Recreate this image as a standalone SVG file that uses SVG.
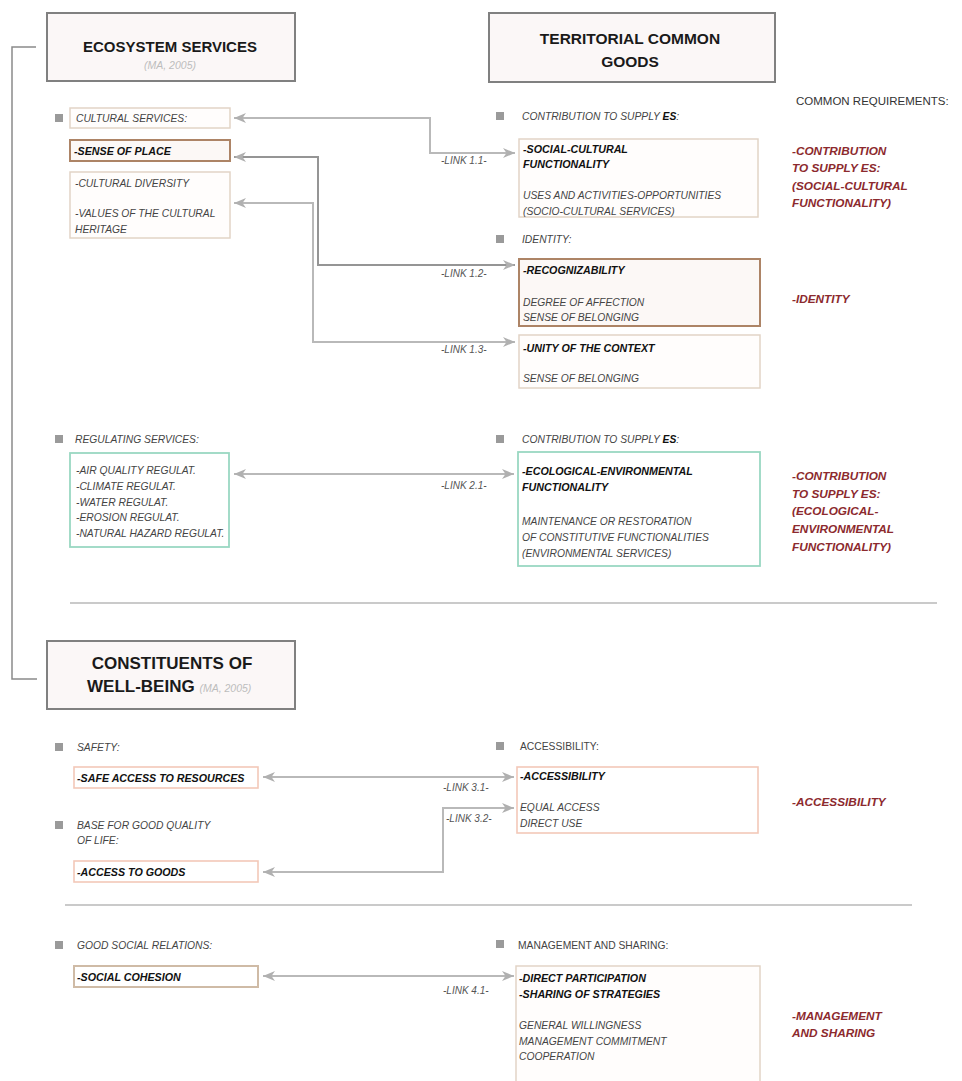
<svg xmlns="http://www.w3.org/2000/svg" width="962" height="1081" viewBox="0 0 962 1081">
<style>
text{font-family:"Liberation Sans",Arial,sans-serif}
.hdr{fill:#fbf7f7;stroke:#808080;stroke-width:2}
.ht{font-weight:bold;fill:#1a1a1a}
.ma{font-style:italic;fill:#bdbdbd;font-size:10.5px}
.bul{fill:#9a9a9a}
.lab{font-style:italic;font-size:10.3px;fill:#555}
.up{font-size:10.3px;fill:#444}
.it{font-style:italic;font-size:10.3px;fill:#444}
.bd{font-style:italic;font-weight:bold;font-size:10.7px;fill:#111}
.red{font-style:italic;font-weight:bold;font-size:11.8px;fill:#8c2a2e}
.lnk{font-style:italic;font-size:10px;fill:#555}
.box{fill:#fffdfc;stroke-width:1.5}
.tan{stroke:#e2d4c6}
.brn{stroke:#ad8466;stroke-width:2;fill:#fcf8f6}
.grn{stroke:#9ad8c2;stroke-width:1.8;fill:#fff}
.sal{stroke:#f3c8b8;stroke-width:1.6;fill:#fff}
.coh{stroke:#cfbba6;stroke-width:2;fill:#fff}
.con{fill:none;stroke:#b9b9b9;stroke-width:2}
.dk{stroke:#959595}
.sep{stroke:#b8b8b8;stroke-width:1.5}
</style>
<defs>
<marker id="ah" viewBox="0 0 12 10" refX="12" refY="5" markerWidth="12" markerHeight="10" markerUnits="userSpaceOnUse" orient="auto-start-reverse">
<path d="M0,0 L12,5 L0,10 L3.5,5 Z" fill="#b0b0b0"/>
</marker>
</defs>
<rect width="962" height="1081" fill="#fff"/>

<!-- bracket -->
<path d="M36,47 H12 V679 H37" fill="none" stroke="#8a8a8a" stroke-width="1.5"/>

<!-- separators -->
<line class="sep" x1="70" y1="603" x2="937" y2="603"/>
<line class="sep" x1="65" y1="905" x2="912" y2="905"/>

<!-- headers -->
<g id="h-es">
<rect class="hdr" x="47" y="13" width="248" height="68"/>
<text class="ht" x="170" y="52" font-size="15" text-anchor="middle">ECOSYSTEM SERVICES</text>
<text class="ma" x="170" y="69" text-anchor="middle">(MA, 2005)</text>
</g>
<g id="h-tcg">
<rect class="hdr" x="489" y="13" width="286" height="69"/>
<text class="ht" x="630" y="44" font-size="15.5" text-anchor="middle">TERRITORIAL COMMON</text>
<text class="ht" x="630" y="67" font-size="15.5" text-anchor="middle">GOODS</text>
</g>
<g id="h-cwb">
<rect class="hdr" x="47" y="641" width="248" height="68"/>
<text class="ht" x="172" y="669" font-size="17" text-anchor="middle">CONSTITUENTS OF</text>
<text class="ht" x="87" y="692" font-size="17">WELL-BEING <tspan class="ma" font-weight="normal" font-size="11">(MA, 2005)</tspan></text>
</g>

<text x="796" y="105" font-size="11.5" fill="#333">COMMON REQUIREMENTS:</text>

<!-- left: cultural -->
<g id="cultural-services">
<rect class="bul" x="55" y="114" width="8" height="8"/>
<rect class="box tan" x="70" y="108" width="160" height="20"/>
<text class="it" x="76" y="122">CULTURAL SERVICES:</text>
</g>
<g id="sense-of-place">
<rect class="box brn" x="70" y="140" width="160" height="21"/>
<text class="bd" x="74" y="155">-SENSE OF PLACE</text>
</g>
<g id="cultural-diversity">
<rect class="box tan" x="70" y="172" width="160" height="66"/>
<text class="it" x="75" y="187">-CULTURAL DIVERSITY</text>
<text class="it" x="75" y="217">-VALUES OF THE CULTURAL</text>
<text class="it" x="75" y="233">HERITAGE</text>
</g>

<!-- left: regulating -->
<g id="regulating-services">
<rect class="bul" x="55" y="435" width="8" height="8"/>
<text class="it" x="75" y="443">REGULATING SERVICES:</text>
<rect class="box grn" x="70" y="453" width="159" height="94"/>
<text class="it" x="76" y="474">-AIR QUALITY REGULAT.</text>
<text class="it" x="76" y="490">-CLIMATE REGULAT.</text>
<text class="it" x="76" y="505.5">-WATER REGULAT.</text>
<text class="it" x="76" y="521">-EROSION REGULAT.</text>
<text class="it" x="76" y="537">-NATURAL HAZARD REGULAT.</text>
</g>

<!-- right: social-cultural -->
<g id="social-cultural">
<rect class="bul" x="496" y="112" width="8" height="8"/>
<text class="it" x="522" y="120">CONTRIBUTION TO SUPPLY <tspan font-weight="bold" fill="#111">ES</tspan>:</text>
<rect class="box tan" x="519" y="139" width="239" height="78"/>
<text class="bd" x="523" y="153">-SOCIAL-CULTURAL</text>
<text class="bd" x="523" y="168">FUNCTIONALITY</text>
<text class="it" x="523" y="199">USES AND ACTIVITIES-OPPORTUNITIES</text>
<text class="it" x="523" y="215">(SOCIO-CULTURAL SERVICES)</text>
</g>
<g id="recognizability">
<rect class="bul" x="496" y="235" width="8" height="8"/>
<text class="it" x="522" y="243">IDENTITY:</text>
<rect class="box brn" x="519" y="259" width="241" height="67"/>
<text class="bd" x="523" y="274">-RECOGNIZABILITY</text>
<text class="it" x="523" y="306">DEGREE OF AFFECTION</text>
<text class="it" x="523" y="321">SENSE OF BELONGING</text>
</g>
<g id="unity">
<rect class="box tan" x="519" y="335" width="241" height="53"/>
<text class="bd" x="523" y="352">-UNITY OF THE CONTEXT</text>
<text class="it" x="523" y="382">SENSE OF BELONGING</text>
</g>
<g id="ecological">
<rect class="bul" x="496" y="435" width="8" height="8"/>
<text class="it" x="522" y="443">CONTRIBUTION TO SUPPLY <tspan font-weight="bold" fill="#111">ES</tspan>:</text>
<rect class="box grn" x="518" y="452" width="242" height="114"/>
<text class="bd" x="522" y="475">-ECOLOGICAL-ENVIRONMENTAL</text>
<text class="bd" x="522" y="491">FUNCTIONALITY</text>
<text class="it" x="522" y="525">MAINTENANCE OR RESTORATION</text>
<text class="it" x="522" y="541">OF CONSTITUTIVE FUNCTIONALITIES</text>
<text class="it" x="522" y="557">(ENVIRONMENTAL SERVICES)</text>
</g>

<!-- red requirements -->
<g id="req-1">
<text class="red" x="792" y="155">-CONTRIBUTION</text>
<text class="red" x="792" y="172">TO SUPPLY ES:</text>
<text class="red" x="792" y="190">(SOCIAL-CULTURAL</text>
<text class="red" x="792" y="207">FUNCTIONALITY)</text>
</g>
<g id="req-2"><text class="red" x="792" y="303">-IDENTITY</text></g>
<g id="req-3">
<text class="red" x="792" y="480">-CONTRIBUTION</text>
<text class="red" x="792" y="498">TO SUPPLY ES:</text>
<text class="red" x="792" y="515">(ECOLOGICAL-</text>
<text class="red" x="792" y="533">ENVIRONMENTAL</text>
<text class="red" x="792" y="551">FUNCTIONALITY)</text>
</g>
<g id="req-4"><text class="red" x="792" y="806">-ACCESSIBILITY</text></g>
<g id="req-5">
<text class="red" x="792" y="1020">-MANAGEMENT</text>
<text class="red" x="792" y="1037">AND SHARING</text>
</g>

<!-- bottom left -->
<g id="safe-access">
<rect class="bul" x="55" y="743" width="8" height="8"/>
<text class="it" x="77" y="751">SAFETY:</text>
<rect class="box sal" x="74" y="767" width="184" height="21"/>
<text class="bd" x="77" y="782">-SAFE ACCESS TO RESOURCES</text>
</g>
<g id="access-goods">
<rect class="bul" x="55" y="821" width="8" height="8"/>
<text class="it" x="77" y="829">BASE FOR GOOD QUALITY</text>
<text class="it" x="77" y="844">OF LIFE:</text>
<rect class="box sal" x="74" y="861" width="184" height="21"/>
<text class="bd" x="77" y="876">-ACCESS TO GOODS</text>
</g>
<g id="social-cohesion">
<rect class="bul" x="55" y="941" width="8" height="8"/>
<text class="it" x="77" y="949">GOOD SOCIAL RELATIONS:</text>
<rect class="box coh" x="74" y="966" width="184" height="21"/>
<text class="bd" x="77" y="981">-SOCIAL COHESION</text>
</g>

<!-- bottom right -->
<g id="accessibility">
<rect class="bul" x="496" y="742" width="8" height="8"/>
<text class="up" x="520" y="750">ACCESSIBILITY:</text>
<rect class="box sal" x="517" y="767" width="241" height="66"/>
<text class="bd" x="520" y="780">-ACCESSIBILITY</text>
<text class="it" x="520" y="811">EQUAL ACCESS</text>
<text class="it" x="520" y="827">DIRECT USE</text>
</g>
<g id="management">
<rect class="bul" x="496" y="940" width="8" height="8"/>
<text class="up" x="518" y="949">MANAGEMENT AND SHARING:</text>
<rect class="box tan" x="516" y="966" width="244" height="130" stroke="#d6cabe"/>
<text class="bd" x="519" y="982">-DIRECT PARTICIPATION</text>
<text class="bd" x="519" y="998">-SHARING OF STRATEGIES</text>
<text class="it" x="519" y="1029">GENERAL WILLINGNESS</text>
<text class="it" x="519" y="1045">MANAGEMENT COMMITMENT</text>
<text class="it" x="519" y="1060">COOPERATION</text>
</g>

<!-- connectors -->
<g id="connectors">
<path class="con" d="M234,118 H430 V153 H515" marker-start="url(#ah)" marker-end="url(#ah)"/>
<path class="con dk" d="M234,157 H318 V265 H515" marker-start="url(#ah)" marker-end="url(#ah)"/>
<path class="con" d="M234,203 H313 V342 H515" marker-start="url(#ah)" marker-end="url(#ah)"/>
<path class="con" d="M234,474 H514" marker-start="url(#ah)" marker-end="url(#ah)"/>
<path class="con" d="M263,777 H514" marker-start="url(#ah)" marker-end="url(#ah)"/>
<path class="con" d="M263,872 H443 V808 H514" marker-start="url(#ah)" marker-end="url(#ah)"/>
<path class="con" d="M263,976 H514" marker-start="url(#ah)" marker-end="url(#ah)"/>
<text class="lnk" x="441" y="164">-LINK 1.1-</text>
<text class="lnk" x="441" y="277">-LINK 1.2-</text>
<text class="lnk" x="441" y="353">-LINK 1.3-</text>
<text class="lnk" x="441" y="489">-LINK 2.1-</text>
<text class="lnk" x="443" y="791">-LINK 3.1-</text>
<text class="lnk" x="446" y="822">-LINK 3.2-</text>
<text class="lnk" x="443" y="994">-LINK 4.1-</text>
</g>
</svg>
